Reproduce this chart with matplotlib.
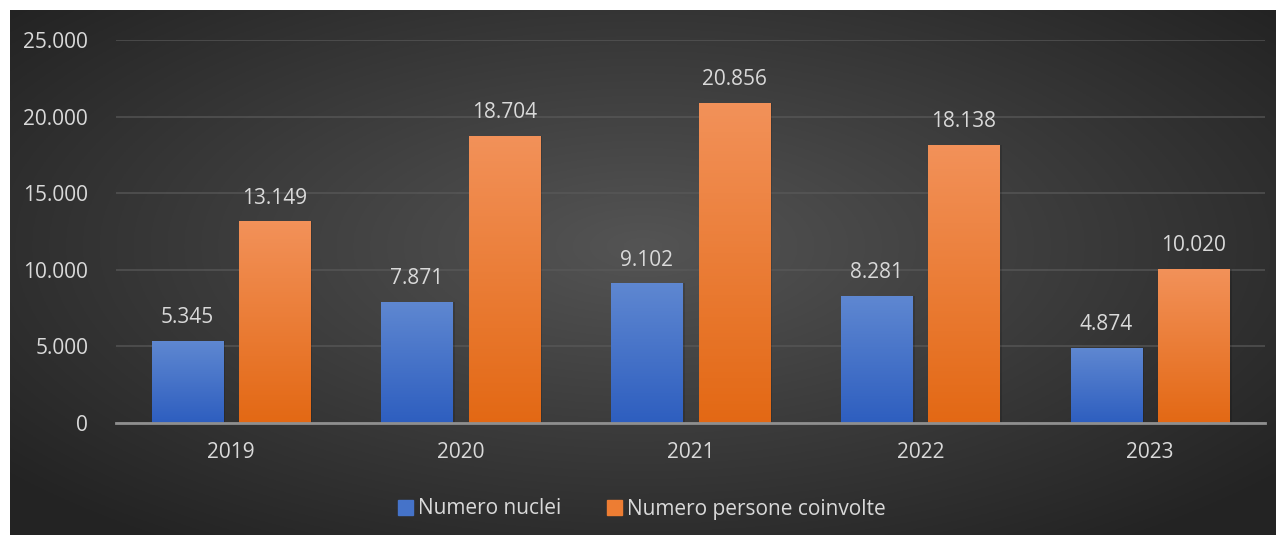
import numpy as np
import matplotlib.pyplot as plt
from matplotlib.patches import Rectangle

years = ['2019', '2020', '2021', '2022', '2023']
nuclei = [5345, 7871, 9102, 8281, 4874]
persone = [13149, 18704, 20856, 18138, 10020]

def fmt(v):
    return f'{v:,.0f}'.replace(',', '.')

plt.rcParams['font.family'] = ['Open Sans', 'DejaVu Sans']
txt = '#d9d9d9'
fs = 15

fig = plt.figure(figsize=(12.84, 5.4), dpi=100)
fig.patch.set_facecolor('white')

# dark panel with radial gradient
bg = fig.add_axes([10 / 1284, 5 / 540, 1266 / 1284, 525 / 540])
yy, xx = np.mgrid[0:1:300j, 0:1:600j]
r = np.sqrt(((xx - 0.5) / 0.75) ** 2 + ((yy - 0.55) / 0.8) ** 2)
shade = np.clip(0.33 - 0.22 * r, 0.14, 0.33)
bg.imshow(np.dstack([shade] * 3), aspect='auto', extent=[0, 1, 0, 1], origin='lower')
bg.set_axis_off()

ax = fig.add_axes([116 / 1284, 117 / 540, 1149 / 1284, 383 / 540])
ax.set_facecolor('none')
x = np.arange(len(years))
w = 0.31
off = 0.19

def grad_bars(xs, vals, top, bottom):
    for xi, v in zip(xs, vals):
        # soft shadow
        ax.add_patch(Rectangle((xi - w / 2 + 0.006, 0), w + 0.004, v + 40,
                               color='black', alpha=0.15, zorder=2, lw=0))
        g = np.linspace(0, 1, 100)[:, None]
        c = np.array(bottom)[None, :] * (1 - g) + np.array(top)[None, :] * g
        ax.imshow(c[:, None, :], extent=[xi - w / 2, xi + w / 2, 0, v],
                  origin='lower', aspect='auto', zorder=3)

grad_bars(x - off, nuclei, (0.37, 0.53, 0.82), (0.18, 0.37, 0.75))
grad_bars(x + off, persone, (0.95, 0.57, 0.35), (0.89, 0.41, 0.08))

for xi, v in zip(x - off, nuclei):
    ax.text(xi, v + 850, fmt(v), ha='center', va='bottom', color=txt, fontsize=fs)
for xi, v in zip(x + off, persone):
    ax.text(xi, v + 850, fmt(v), ha='center', va='bottom', color=txt, fontsize=fs)

ax.set_xlim(-0.5, 4.5)
ax.set_ylim(0, 25000)
ax.set_yticks(np.arange(0, 25001, 5000))
ax.set_yticklabels([fmt(v) for v in np.arange(0, 25001, 5000)])
ax.set_xticks(x)
ax.set_xticklabels(years)
ax.tick_params(colors=txt, labelsize=fs, length=0)
ax.tick_params(axis='y', pad=20)
ax.tick_params(axis='x', pad=14)
ax.grid(axis='y', color='#5a5a5a', lw=1.3, alpha=0.7, zorder=0)
ax.set_axisbelow(True)
for s in ['top', 'right', 'left']:
    ax.spines[s].set_visible(False)
ax.spines['bottom'].set_color('#8f8f8f')
ax.spines['bottom'].set_linewidth(2)
ax.spines['bottom'].set_zorder(4)

h1 = Rectangle((0, 0), 1, 1, color=(0.27, 0.45, 0.79))
h2 = Rectangle((0, 0), 1, 1, color=(0.93, 0.49, 0.2))
fig.legend([h1, h2], ['Numero nuclei', 'Numero persone coinvolte'],
           loc='center', bbox_to_anchor=(0.5, 31 / 540), ncol=2, frameon=False,
           fontsize=fs, labelcolor=txt, handlelength=0.7, handleheight=0.7,
           handletextpad=0.25, columnspacing=2.2)

fig.savefig('out.png', dpi=100, facecolor=fig.get_facecolor())
